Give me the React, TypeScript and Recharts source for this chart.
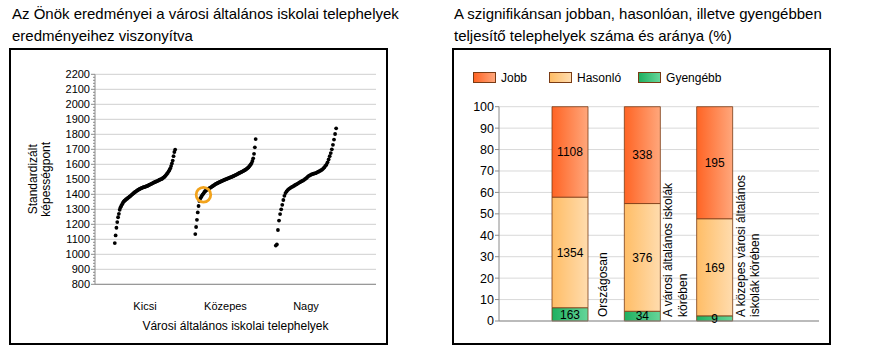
import React from 'react';
import {
  ScatterChart,
  Scatter,
  XAxis,
  YAxis,
  ReferenceLine,
  BarChart,
  Bar,
  CartesianGrid,
  LabelList,
} from 'recharts';

const FONT = 'Arial, "Liberation Sans", Helvetica, sans-serif';

// ---------- Left chart data ----------
const leftTitle = 'Az Önök eredményei a városi általános iskolai telephelyek eredményeihez viszonyítva';
const groupNames = ['Kicsi', 'Közepes', 'Nagy'];
const kicsiValues = [
  1075, 1126, 1177, 1215, 1247, 1270, 1297, 1313, 1324, 1334, 1344, 1352, 1357, 1362, 1367, 1371, 1376, 1380, 1384,
  1388, 1393, 1398, 1403, 1407, 1412, 1416, 1420, 1424, 1427, 1431, 1434, 1437, 1440, 1442, 1445, 1447, 1448, 1450,
  1452, 1454, 1456, 1459, 1462, 1465, 1468, 1470, 1473, 1476, 1479, 1481, 1484, 1486, 1488, 1491, 1494, 1497, 1499,
  1501, 1504, 1509, 1513, 1517, 1523, 1530, 1537, 1543, 1553, 1562, 1573, 1588, 1606, 1625, 1654, 1682, 1698,
];
const kozepesValues = [
  1135, 1182, 1230, 1279, 1322, 1355, 1371, 1381, 1390, 1398, 1405, 1414, 1421, 1425, 1430, 1433, 1437, 1439, 1443,
  1446, 1450, 1454, 1457, 1461, 1465, 1469, 1471, 1474, 1477, 1479, 1482, 1485, 1487, 1490, 1492, 1495, 1497, 1499,
  1501, 1504, 1506, 1508, 1511, 1513, 1515, 1517, 1520, 1522, 1525, 1528, 1530, 1533, 1536, 1539, 1542, 1545, 1547,
  1550, 1553, 1556, 1559, 1562, 1566, 1570, 1574, 1579, 1585, 1592, 1599, 1608, 1622, 1640, 1670, 1713, 1768,
];
const nagyValues = [
  1058, 1066, 1162, 1225, 1268, 1300, 1330, 1362, 1390, 1408, 1419, 1428, 1435, 1440, 1445, 1449, 1453, 1457, 1462,
  1466, 1470, 1475, 1479, 1483, 1487, 1491, 1495, 1501, 1506, 1512, 1520, 1524, 1528, 1532, 1535, 1537, 1539, 1541,
  1545, 1549, 1552, 1556, 1561, 1565, 1572, 1579, 1590, 1597, 1613, 1632, 1654, 1675, 1700, 1730, 1765, 1802, 1840,
];
const highlightRank = 10; // rank within "Közepes"
const highlightValue = 1397;
const yMajorTicks = [800, 900, 1000, 1100, 1200, 1300, 1400, 1500, 1600, 1700, 1800, 1900, 2000, 2100, 2200];
const yAxisTitle = ['Standardizált', 'képességpont'];
const xAxisTitle = 'Városi általános iskolai telephelyek';

// ---------- Right chart data ----------
const rightTitle = 'A szignifikánsan jobban, hasonlóan, illetve gyengébben teljesítő telephelyek száma és aránya (%)';
const barCategories = ['Országosan', 'A városi általános iskolák\nkörében', 'A közepes városi általános\niskolák körében'];
const jobbCounts = [1108, 338, 195];
const hasonloCounts = [1354, 376, 169];
const gyengebbCounts = [163, 34, 9];
const seriesNames = ['Jobb', 'Hasonló', 'Gyengébb'];
const pctTicks = [0, 10, 20, 30, 40, 50, 60, 70, 80, 90, 100];

// ---------- Derived tables ----------
const SPREAD = 0.75;
const toPoints = (vals: number[], g: number) =>
  vals.map((v, i) => ({ x: g + 1 + (i / (vals.length - 1) - 0.5) * SPREAD, y: v }));
const groups = [kicsiValues, kozepesValues, nagyValues].map((vals, g) => toPoints(vals, g));
const highlightData = [
  { x: 2 + (highlightRank / (kozepesValues.length - 1) - 0.5) * SPREAD, y: highlightValue },
];
const minorTicks: number[] = [];
for (let v = 800; v <= 2200; v += 20) minorTicks.push(v);

const barData = barCategories.map((name, i) => {
  const total = jobbCounts[i] + hasonloCounts[i] + gyengebbCounts[i];
  return {
    name,
    jobb: (jobbCounts[i] / total) * 100,
    hasonlo: (hasonloCounts[i] / total) * 100,
    gyengebb: (gyengebbCounts[i] / total) * 100,
    jobbN: jobbCounts[i],
    hasonloN: hasonloCounts[i],
    gyengebbN: gyengebbCounts[i],
  };
});

const gradients = {
  jobb: ['#ff6424', '#ffa77c'],
  hasonlo: ['#ffbd66', '#ffdcae'],
  gyengebb: ['#1fb060', '#66d69a'],
};
const BAR_STROKE = '#7a3b14';

// ---------- Components ----------
const LeftYTick = (props: any) => {
  const { x, y, payload } = props;
  const v = payload.value;
  const major = v % 100 === 0;
  return (
    <g>
      <line x1={x - (major ? 4 : 2)} x2={x} y1={y} y2={y} stroke="#8a8a8a" strokeWidth={1} />
      {major && (
        <text x={x - 5} y={y} dy={4} textAnchor="end" fontSize={11} fontFamily={FONT} fill="#000">
          {v}
        </text>
      )}
    </g>
  );
};

const YTitle = () => (
  <g>
    {yAxisTitle.map((t, k) => (
      <text
        key={k}
        transform={`translate(${22 + k * 13},${129.3}) rotate(-90)`}
        textAnchor="middle"
        dominantBaseline="central"
        fontSize={12}
        fontFamily={FONT}
        fill="#000"
      >
        {t}
      </text>
    ))}
  </g>
);

const dot = (props: any) => <circle cx={props.cx} cy={props.cy} r={1.9} fill="#000" />;
const ring = (props: any) => (
  <circle cx={props.cx} cy={props.cy} r={7.3} fill="none" stroke="#f2a31c" strokeWidth={2.8} />
);

const BarCatTick = (props: any) => {
  const { x, y, payload } = props;
  const lines = String(payload.value).split('\n');
  const n = lines.length;
  return (
    <g>
      {lines.map((ln, k) => {
        const cx = x + 33 + (k - (n - 1) / 2) * 14.5;
        return (
          <text
            key={k}
            transform={`translate(${cx},${y - 4}) rotate(-90)`}
            textAnchor="start"
            dominantBaseline="central"
            fontSize={12}
            fontFamily={FONT}
            fill="#000"
          >
            {ln}
          </text>
        );
      })}
    </g>
  );
};

const legendKeys = ['jobb', 'hasonlo', 'gyengebb'] as const;

const boxStyle: React.CSSProperties = {
  position: 'absolute',
  top: 48,
  width: 379,
  height: 297,
  border: '2px solid #000',
  boxSizing: 'border-box',
  background: '#fff',
};

const titleStyle: React.CSSProperties = {
  position: 'absolute',
  top: 3,
  fontSize: 15,
  lineHeight: '22px',
  fontFamily: FONT,
  color: '#000',
};

export default function App() {
  return (
    <div
      style={{
        position: 'absolute',
        left: 0,
        top: 0,
        width: 874,
        height: 354,
        background: '#fff',
        fontFamily: FONT,
      }}
    >
      <div style={{ ...titleStyle, left: 12, width: 420 }}>{leftTitle}</div>
      <div style={{ ...titleStyle, left: 454, width: 410 }}>{rightTitle}</div>

      {/* Left chart */}
      <div style={{ ...boxStyle, left: 9 }}>
        <ScatterChart width={375} height={293} margin={{ top: 24.3, right: 10, left: 0, bottom: 8.7 }}>
          {yMajorTicks.map((v) => (
            <ReferenceLine key={v} y={v} stroke="#cfcfcf" strokeWidth={1} />
          ))}
          <XAxis
            type="number"
            dataKey="x"
            domain={[0.379, 3.87]}
            ticks={[1, 2, 3]}
            allowDataOverflow
            tickFormatter={(v: number) => groupNames[v - 1]}
            tickLine={false}
            tickSize={0}
            tickMargin={18}
            height={50}
            axisLine={{ stroke: '#8a8a8a' }}
            tick={{ fontSize: 11, fill: '#000', fontFamily: FONT }}
            interval={0}
            label={{ value: xAxisTitle, position: 'insideBottom', offset: 4, fontSize: 12, fill: '#000', fontFamily: FONT }}
          />
          <YAxis
            type="number"
            dataKey="y"
            domain={[800, 2200]}
            ticks={minorTicks}
            interval={0}
            allowDataOverflow
            width={84}
            tickSize={0}
            tickMargin={0}
            tickLine={false}
            axisLine={{ stroke: '#8a8a8a' }}
            tick={<LeftYTick />}
            label={<YTitle />}
          />
          {groups.map((pts, g) => (
            <Scatter key={g} name={groupNames[g]} data={pts} shape={dot} isAnimationActive={false} />
          ))}
          <Scatter data={highlightData} shape={ring} isAnimationActive={false} />
        </ScatterChart>
      </div>

      {/* Right chart */}
      <div style={{ ...boxStyle, left: 452 }}>
        <div
          style={{
            position: 'absolute',
            left: 19,
            top: 22,
            display: 'flex',
            alignItems: 'center',
            fontSize: 12,
            fontFamily: FONT,
            color: '#000',
            height: 11,
          }}
        >
          {legendKeys.map((k, i) => (
            <div key={k} style={{ display: 'flex', alignItems: 'center', marginRight: i === 0 ? 22 : 17 }}>
              <div
                style={{
                  width: 21,
                  height: 9,
                  border: `1px solid ${BAR_STROKE}`,
                  background: `linear-gradient(to right, ${gradients[k][0]}, ${gradients[k][1]})`,
                  marginRight: 5,
                }}
              />
              <span>{seriesNames[i]}</span>
            </div>
          ))}
        </div>
        <BarChart
          width={375}
          height={293}
          data={barData}
          margin={{ top: 56.7, right: 10, left: 0, bottom: 0 }}
        >
          <defs>
            {legendKeys.map((k) => (
              <linearGradient key={k} id={`grad-${k}`} x1="0" y1="0" x2="1" y2="0">
                <stop offset="0%" stopColor={gradients[k][0]} />
                <stop offset="100%" stopColor={gradients[k][1]} />
              </linearGradient>
            ))}
          </defs>
          <CartesianGrid vertical={false} stroke="#d9d9d9" />
          <XAxis
            dataKey="name"
            padding={{ left: 35, right: 68 }}
            tickLine={false}
            tickSize={0}
            tickMargin={0}
            height={22}
            interval={0}
            axisLine={{ stroke: '#8a8a8a' }}
            tick={<BarCatTick />}
          />
          <YAxis
            domain={[0, 100]}
            ticks={pctTicks}
            interval={0}
            width={45}
            tickSize={4}
            tickMargin={1}
            axisLine={{ stroke: '#8a8a8a' }}
            tickLine={{ stroke: '#8a8a8a' }}
            tick={{ fontSize: 12.5, fill: '#000', fontFamily: FONT }}
          />
          <Bar dataKey="gyengebb" stackId="a" barSize={36} fill="url(#grad-gyengebb)" stroke={BAR_STROKE} strokeWidth={0.8} isAnimationActive={false}>
            <LabelList dataKey="gyengebbN" position="center" fontSize={12} fill="#000" fontFamily={FONT} />
          </Bar>
          <Bar dataKey="hasonlo" stackId="a" barSize={36} fill="url(#grad-hasonlo)" stroke={BAR_STROKE} strokeWidth={0.8} isAnimationActive={false}>
            <LabelList dataKey="hasonloN" position="center" fontSize={12} fill="#000" fontFamily={FONT} />
          </Bar>
          <Bar dataKey="jobb" stackId="a" barSize={36} fill="url(#grad-jobb)" stroke={BAR_STROKE} strokeWidth={0.8} isAnimationActive={false}>
            <LabelList dataKey="jobbN" position="center" fontSize={12} fill="#000" fontFamily={FONT} />
          </Bar>
        </BarChart>
      </div>
    </div>
  );
}
